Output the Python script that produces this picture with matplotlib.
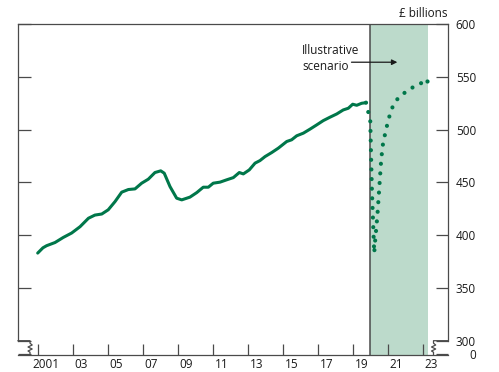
import matplotlib
matplotlib.use("Agg")
import matplotlib.pyplot as plt
from matplotlib.lines import Line2D

plt.rcParams['font.family'] = ['Open Sans', 'DejaVu Sans']

# ---- data ----
hist_years = [2001.0, 2001.3, 2001.51, 2001.99, 2002.46, 2002.94, 2003.42, 2003.9, 2004.27, 2004.66,
              2005.03, 2005.42, 2005.8, 2006.18, 2006.56, 2006.94, 2007.32, 2007.7, 2008.03, 2008.23,
              2008.56, 2008.94, 2009.23, 2009.7, 2010.09, 2010.46, 2010.75, 2011.03, 2011.42, 2011.8,
              2012.18, 2012.52, 2012.75, 2013.09, 2013.42, 2013.7, 2013.99, 2014.37, 2014.75, 2015.23,
              2015.51, 2015.8, 2016.18, 2016.56, 2016.94, 2017.32, 2017.7, 2018.09, 2018.46, 2018.75,
              2019.0, 2019.23, 2019.51, 2019.76]
hist_values = [383, 388, 390, 393, 397.8, 402, 408, 416, 419, 420,
               424, 431.8, 440.7, 443.2, 443.8, 449.2, 453, 459.3, 460.9, 458.7,
               446, 435, 433.4, 436, 440.3, 445.4, 445.4, 449.2, 450.2, 452.4,
               454.5, 459.3, 458, 461.8, 468.2, 470.6, 474.4, 478.2, 482.4, 488.7,
               490.3, 494.1, 496.6, 500.4, 504.4, 508.5, 511.7, 514.8, 518.6, 520.2,
               524, 523, 524.9, 525.5]

scen_years = [2019.76, 2019.85, 2020.0, 2020.05, 2020.1, 2020.17, 2020.23, 2020.27, 2020.41, 2020.52,
              2020.63, 2020.75, 2020.89, 2021.0, 2021.15, 2021.32, 2021.63, 2022.05, 2022.5, 2022.98,
              2023.26]
scen_values = [525.5, 518.6, 511, 475, 441, 410, 383, 392.4, 418.3, 445.1,
               472, 489.3, 498.1, 507, 515.5, 523.3, 530.6, 535.9, 540.7, 544.5,
               545.8]

scenario_start = 2020.0
scenario_end = 2023.28

xtick_years = [2001, 2003, 2005, 2007, 2009, 2011, 2013, 2015, 2017, 2019, 2021, 2023]
xtick_labels = ['2001', '03', '05', '07', '09', '11', '13', '15', '17', '19', '21', '23']
ytick_values = [300, 350, 400, 450, 500, 550, 600]
ytick_labels = ['300', '350', '400', '450', '500', '550', '600']

GREEN = '#00774a'
SHADE = '#bcdacb'
AXC = '#4a4a4a'

W, H = 499, 372
fig = plt.figure(figsize=(W / 100, H / 100), dpi=100)

left_px, right_px, top_px, base_px, box_bottom_px = 18, 447.5, 24, 354.5, 340.7
ax = fig.add_axes([left_px / W, (H - base_px) / H, (right_px - left_px) / W, (base_px - top_px) / H])

px_per_year = 17.5
x0_px = 37.7
xmin = 2001 + (left_px - x0_px) / px_per_year
xmax = 2001 + (right_px - x0_px) / px_per_year
ymax = 600
ymin = 300 - (base_px - box_bottom_px) * 300 / (box_bottom_px - top_px)
ax.set_xlim(xmin, xmax)
ax.set_ylim(ymin, ymax)

# shading and vertical line
ax.axvspan(scenario_start, scenario_end, color=SHADE, lw=0, zorder=0)
ax.axvline(scenario_start, color=AXC, lw=1.1, zorder=1)

# lines
ax.plot(hist_years, hist_values, color=GREEN, lw=2.2, solid_capstyle='round', zorder=3)
ax.plot(scen_years, scen_values, color=GREEN, lw=3.0, linestyle=(0, (0.01, 2.3)),
        dash_capstyle='round', zorder=3)
ax.plot(scen_years[-1:], scen_values[-1:], 'o', color=GREEN, ms=3.0, mew=0, zorder=3)

# spines
for s in ['left', 'right', 'top', 'bottom']:
    ax.spines[s].set_color(AXC)
    ax.spines[s].set_linewidth(0.9)
ax.spines['left'].set_bounds(300, 600)
ax.spines['right'].set_bounds(300, 600)

# x ticks
ax.set_xticks(xtick_years)
ax.set_xticklabels([])
ax.tick_params(axis='x', which='major', direction='in', length=8, width=0.9, color=AXC, top=False)
ax.set_xticks([y + 0.5 for y in xtick_years], minor=True)
ax.set_xticklabels(xtick_labels, minor=True)
ax.tick_params(axis='x', which='minor', length=0, pad=2.5, labelsize=8.5, labelcolor='#1a1a1a')

# y ticks
ax.set_yticks(ytick_values + [ymin])
ax.set_yticklabels(ytick_labels + ['0'])
ax.tick_params(axis='y', direction='in', length=9, width=0.9, color=AXC, left=True, right=True,
               labelleft=False, labelright=True, pad=20.5, labelsize=8.5, labelcolor='#1a1a1a')
for lbl in ax.get_yticklabels():
    lbl.set_horizontalalignment('right')

# annotation
ax.text(2016.1, 567.5, 'Illustrative\nscenario', fontsize=8.5, ha='left', va='center',
        linespacing=1.25, color='#1a1a1a')
ax.annotate('', xy=(2021.55, 563.8), xytext=(2018.93, 563.8),
            arrowprops=dict(arrowstyle='-|>', color='#1a1a1a', lw=0.9,
                            mutation_scale=8, shrinkA=0, shrinkB=0))

fig.text(right_px / W, 1 - 13.5 / H, '£ billions', ha='right', va='center', fontsize=8.5,
         color='#1a1a1a')

# axis break decorations (pixel-space overlay)
ov = fig.add_axes([0, 0, 1, 1], facecolor='none')
ov.set_xlim(0, W)
ov.set_ylim(H, 0)
ov.axis('off')

def brk(xs):
    zig = [(xs, box_bottom_px + 2.5), (xs + 2.2, box_bottom_px + 4.3), (xs - 2.0, box_bottom_px + 6.3),
           (xs + 2.2, box_bottom_px + 8.3), (xs - 2.0, box_bottom_px + 10.3), (xs, box_bottom_px + 11.5),
           (xs, base_px)]
    return zig

lx = 30.0
pts = [(left_px, box_bottom_px), (lx, box_bottom_px)] + brk(lx)
ov.add_line(Line2D([p[0] for p in pts], [p[1] for p in pts], color=AXC, lw=0.9))
rx = 433.5
pts = [(right_px, box_bottom_px), (rx, box_bottom_px)] + brk(rx)
ov.add_line(Line2D([p[0] for p in pts], [p[1] for p in pts], color=AXC, lw=0.9))

fig.savefig('out.png', dpi=100)
